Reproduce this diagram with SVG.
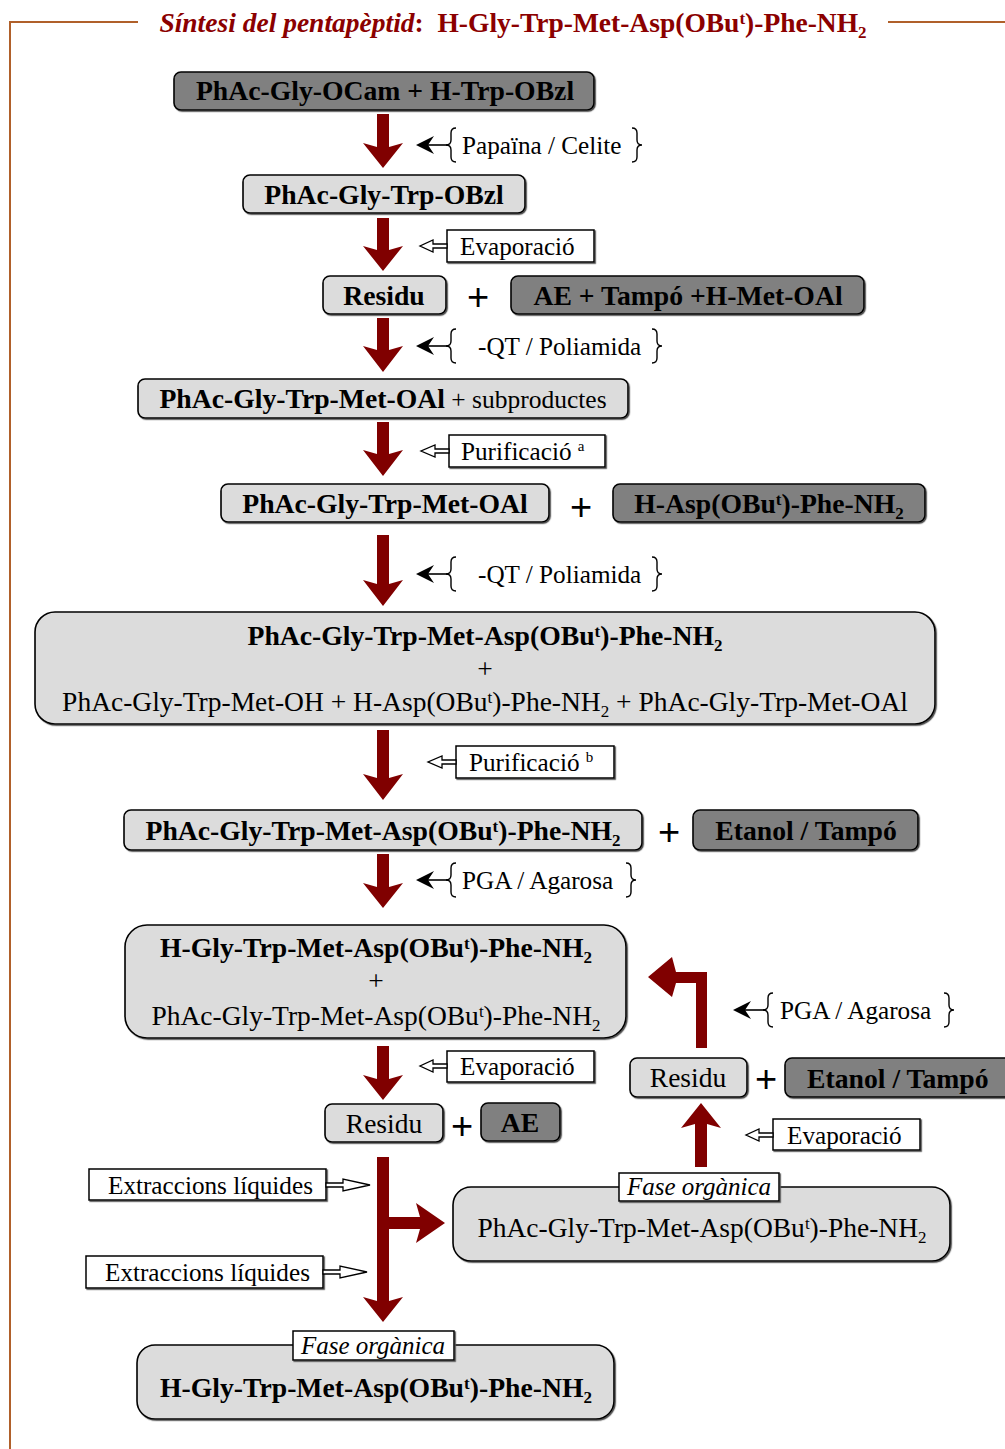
<svg xmlns="http://www.w3.org/2000/svg" width="1005" height="1449" viewBox="0 0 1005 1449">
<defs>
<filter id="ds" x="-5%" y="-5%" width="110%" height="120%"><feDropShadow dx="1.2" dy="1.2" stdDeviation="0.3" flood-color="#555"/></filter>
<style>
text{font-family:"Liberation Serif","Times New Roman",serif;fill:#000}
.b{font-weight:bold;font-size:27.7px}
.r{font-size:27.5px}
.l{font-size:25.2px}
.i{font-style:italic;font-size:25px}
.m{text-anchor:middle}
.lt{fill:#dcdcdc;stroke:#000;stroke-width:1.6;filter:url(#ds)}
.dk{fill:#808080;stroke:#000;stroke-width:1.6;filter:url(#ds)}
.wb{fill:#fff;stroke:#000;stroke-width:1.5;filter:url(#ds)}
.ar{fill:#800000}
.br{fill:none;stroke:#000;stroke-width:1.4}
.ka{stroke:#000;stroke-width:1.6}
.kh{fill:#000}
.oa{fill:#fff;stroke:#000;stroke-width:1.3}
.pl{font-size:38px;font-family:"Liberation Sans",Arial,sans-serif}
.fr{stroke:#b0602a;stroke-width:2;fill:none}
.tt{font-weight:bold;font-size:27.5px;fill:#8b0000}
</style>
</defs>
<g id="frame">
<polyline class="fr" points="138,22 10,22 10,1449"/>
<line class="fr" x1="888" y1="22" x2="1005" y2="22"/>
<text class="tt m" x="513" y="32"><tspan font-style="italic">Síntesi del pentapèptid</tspan>:&#160; H-Gly-Trp-Met-Asp(OBu<tspan font-size="17" dy="-8">t</tspan><tspan dy="8">)-Phe-NH</tspan><tspan font-size="17" dy="6">2</tspan></text>
</g>
<g id="connectors">
<polygon class="ar" points="377,114 389,114 389,147 403,143 383,168 363,143 377,147"/>
<polygon class="ar" points="377,218 389,218 389,250 403,246 383,271 363,246 377,250"/>
<polygon class="ar" points="377,318 389,318 389,350 403,346 383,372 363,346 377,350"/>
<polygon class="ar" points="377,422 389,422 389,454 403,450 383,476 363,450 377,454"/>
<polygon class="ar" points="377,535 389,535 389,584 403,580 383,606 363,580 377,584"/>
<polygon class="ar" points="377,730 389,730 389,778 403,774 383,800 363,774 377,778"/>
<polygon class="ar" points="377,854 389,854 389,887 403,883 383,908 363,883 377,887"/>
<polygon class="ar" points="377,1046 389,1046 389,1079 403,1075 383,1100 363,1075 377,1079"/>
<polygon class="ar" points="377,1157 389,1157 389,1217 420,1217 416,1203 445,1223 416,1243 420,1229 389,1229 389,1301 403,1297 383,1322 363,1297 377,1301"/>
<polygon class="ar" points="695,1167 707,1167 707,1124 721,1128 701,1103 681,1128 695,1124"/>
<polygon class="ar" points="707,1048 707,972 676,972 672,957 648,977 672,997 676,983 696,983 696,1048"/>
</g>
<g id="reagent-labels">
<g id="lab-papaina">
<line class="ka" x1="449" y1="145" x2="425" y2="145"/><path class="kh" d="M416,145 L434,136 L428,145 L434,154 Z"/>
<path class="br" d="M456,128 q-5,0 -5,5 v7 q0,5 -5,5 q5,0 5,5 v7 q0,5 5,5"/>
<text class="l" x="462" y="154">Papaïna / Celite</text>
<path class="br" d="M632,128 q5,0 5,5 v7 q0,5 5,5 q-5,0 -5,5 v7 q0,5 -5,5"/>
</g>
<g id="lab-qt1">
<line class="ka" x1="449" y1="346" x2="425" y2="346"/><path class="kh" d="M416,346 L434,337 L428,346 L434,355 Z"/>
<path class="br" d="M456,329 q-5,0 -5,5 v7 q0,5 -5,5 q5,0 5,5 v7 q0,5 5,5"/>
<text class="l" x="478" y="355">-QT / Poliamida</text>
<path class="br" d="M652,329 q5,0 5,5 v7 q0,5 5,5 q-5,0 -5,5 v7 q0,5 -5,5"/>
</g>
<g id="lab-qt2">
<line class="ka" x1="449" y1="574" x2="425" y2="574"/><path class="kh" d="M416,574 L434,565 L428,574 L434,583 Z"/>
<path class="br" d="M456,557 q-5,0 -5,5 v7 q0,5 -5,5 q5,0 5,5 v7 q0,5 5,5"/>
<text class="l" x="478" y="583">-QT / Poliamida</text>
<path class="br" d="M652,557 q5,0 5,5 v7 q0,5 5,5 q-5,0 -5,5 v7 q0,5 -5,5"/>
</g>
<g id="lab-pga1">
<line class="ka" x1="449" y1="880" x2="425" y2="880"/><path class="kh" d="M416,880 L434,871 L428,880 L434,889 Z"/>
<path class="br" d="M456,863 q-5,0 -5,5 v7 q0,5 -5,5 q5,0 5,5 v7 q0,5 5,5"/>
<text class="l" x="462" y="889">PGA / Agarosa</text>
<path class="br" d="M626,863 q5,0 5,5 v7 q0,5 5,5 q-5,0 -5,5 v7 q0,5 -5,5"/>
</g>
<g id="lab-pga2">
<line class="ka" x1="766" y1="1010" x2="742" y2="1010"/><path class="kh" d="M733,1010 L751,1001 L745,1010 L751,1019 Z"/>
<path class="br" d="M773,993 q-5,0 -5,5 v7 q0,5 -5,5 q5,0 5,5 v7 q0,5 5,5"/>
<text class="l" x="780" y="1019">PGA / Agarosa</text>
<path class="br" d="M944,993 q5,0 5,5 v7 q0,5 5,5 q-5,0 -5,5 v7 q0,5 -5,5"/>
</g>
<g id="lab-evap1">
<rect class="wb" x="447" y="230" width="147" height="32"/>
<polygon class="oa" points="447,244 433,244 433,240 420,246 433,252 433,248 447,248"/>
<text class="l" x="460" y="255">Evaporació</text>
</g>
<g id="lab-puri-a">
<rect class="wb" x="449" y="435" width="156" height="32"/>
<polygon class="oa" points="449,449 435,449 435,445 421,451 435,457 435,453 449,453"/>
<text class="l" x="461" y="460">Purificació <tspan font-size="15" dy="-9">a</tspan></text>
</g>
<g id="lab-puri-b">
<rect class="wb" x="456" y="746" width="158" height="32"/>
<polygon class="oa" points="456,760 442,760 442,756 428,762 442,768 442,764 456,764"/>
<text class="l" x="469" y="771">Purificació <tspan font-size="15" dy="-9">b</tspan></text>
</g>
<g id="lab-evap2">
<rect class="wb" x="447" y="1051" width="147" height="31"/>
<polygon class="oa" points="447,1064 433,1064 433,1060 420,1066 433,1072 433,1068 447,1068"/>
<text class="l" x="460" y="1075">Evaporació</text>
</g>
<g id="lab-evap3">
<rect class="wb" x="773" y="1119" width="147" height="31"/>
<polygon class="oa" points="773,1133 759,1133 759,1129 746,1135 759,1141 759,1137 773,1137"/>
<text class="l" x="787" y="1144">Evaporació</text>
</g>
<g id="lab-extr1">
<rect class="wb" x="89" y="1169" width="237" height="31"/>
<polygon class="oa" points="326,1183 343,1183 343,1179 370,1185 343,1191 343,1187 326,1187"/>
<text class="l" x="108" y="1194">Extraccions líquides</text>
</g>
<g id="lab-extr2">
<rect class="wb" x="86" y="1256" width="237" height="32"/>
<polygon class="oa" points="323,1270 340,1270 340,1266 367,1272 340,1278 340,1274 323,1274"/>
<text class="l" x="105" y="1281">Extraccions líquides</text>
</g>
</g>
<g id="n1"><rect class="dk" x="174" y="72" width="420" height="38" rx="7"/><text class="b m" x="385" y="100">PhAc-Gly-OCam + H-Trp-OBzl</text></g>
<g id="n2"><rect class="lt" x="243" y="175" width="282" height="38" rx="7"/><text class="b m" x="384" y="204">PhAc-Gly-Trp-OBzl</text></g>
<g id="n3"><rect class="lt" x="323" y="276" width="123" height="38" rx="7"/><text class="b m" x="384" y="305">Residu</text></g>
<text class="pl m" x="478" y="310">+</text>
<g id="n4"><rect class="dk" x="511" y="276" width="353" height="38" rx="7"/><text class="b m" x="688" y="305">AE + Tampó +H-Met-OAl</text></g>
<g id="n5"><rect class="lt" x="138" y="379" width="490" height="39" rx="7"/><text class="b m" x="383" y="408">PhAc-Gly-Trp-Met-OAl<tspan font-weight="normal" font-size="25.5"> + subproductes</tspan></text></g>
<g id="n6"><rect class="lt" x="221" y="484" width="328" height="38" rx="7"/><text class="b m" x="385" y="513">PhAc-Gly-Trp-Met-OAl</text></g>
<text class="pl m" x="581" y="520">+</text>
<g id="n7"><rect class="dk" x="613" y="484" width="312" height="38" rx="7"/><text class="b m" x="769" y="513">H-Asp(OBu<tspan font-size="17" dy="-8">t</tspan><tspan dy="8">)-Phe-NH</tspan><tspan font-size="17" dy="6">2</tspan></text></g>
<g id="n8"><rect class="lt" x="35" y="612" width="900" height="112" rx="20"/>
<text class="b m" x="485" y="645">PhAc-Gly-Trp-Met-Asp(OBu<tspan font-size="17" dy="-8">t</tspan><tspan dy="8">)-Phe-NH</tspan><tspan font-size="17" dy="6">2</tspan></text>
<text class="r m" x="485" y="678">+</text>
<text class="r m" x="485" y="711">PhAc-Gly-Trp-Met-OH + H-Asp(OBu<tspan font-size="17" dy="-8">t</tspan><tspan dy="8">)-Phe-NH</tspan><tspan font-size="17" dy="6">2</tspan><tspan dy="-6"> + PhAc-Gly-Trp-Met-OAl</tspan></text></g>
<g id="n9"><rect class="lt" x="124" y="810" width="518" height="40" rx="7"/><text class="b m" x="383" y="840">PhAc-Gly-Trp-Met-Asp(OBu<tspan font-size="17" dy="-8">t</tspan><tspan dy="8">)-Phe-NH</tspan><tspan font-size="17" dy="6">2</tspan></text></g>
<text class="pl m" x="669" y="845">+</text>
<g id="n10"><rect class="dk" x="693" y="810" width="225" height="40" rx="7"/><text class="b m" x="806" y="840">Etanol / Tampó</text></g>
<g id="n11"><rect class="lt" x="125" y="925" width="501" height="113" rx="22"/>
<text class="b m" x="376" y="957">H-Gly-Trp-Met-Asp(OBu<tspan font-size="17" dy="-8">t</tspan><tspan dy="8">)-Phe-NH</tspan><tspan font-size="17" dy="6">2</tspan></text>
<text class="r m" x="376" y="990">+</text>
<text class="r m" x="376" y="1025">PhAc-Gly-Trp-Met-Asp(OBu<tspan font-size="17" dy="-8">t</tspan><tspan dy="8">)-Phe-NH</tspan><tspan font-size="17" dy="6">2</tspan></text></g>
<g id="n12"><rect class="lt" x="325" y="1104" width="118" height="38" rx="7"/><text class="r m" x="384" y="1133">Residu</text></g>
<text class="pl m" x="462" y="1139">+</text>
<g id="n13"><rect class="dk" x="481" y="1103" width="79" height="38" rx="7"/><text class="b m" x="520" y="1132">AE</text></g>
<g id="n14"><rect class="lt" x="630" y="1058" width="117" height="39" rx="7"/><text class="r m" x="688" y="1087">Residu</text></g>
<text class="pl m" x="766" y="1092">+</text>
<g id="n15"><rect class="dk" x="785" y="1058" width="230" height="39" rx="7"/><text class="b" x="807" y="1088">Etanol / Tampó</text></g>
<g id="n16"><rect class="lt" x="453" y="1187" width="497" height="74" rx="18"/>
<rect class="wb" x="619" y="1173" width="160" height="28"/><text class="i m" x="699" y="1195">Fase orgànica</text>
<text class="r m" x="702" y="1237">PhAc-Gly-Trp-Met-Asp(OBu<tspan font-size="17" dy="-8">t</tspan><tspan dy="8">)-Phe-NH</tspan><tspan font-size="17" dy="6">2</tspan></text></g>
<g id="n17"><rect class="lt" x="137" y="1345" width="477" height="74" rx="18"/>
<rect class="wb" x="293" y="1331" width="161" height="29"/><text class="i m" x="373" y="1354">Fase orgànica</text>
<text class="b m" x="376" y="1397">H-Gly-Trp-Met-Asp(OBu<tspan font-size="17" dy="-8">t</tspan><tspan dy="8">)-Phe-NH</tspan><tspan font-size="17" dy="6">2</tspan></text></g>
</svg>
